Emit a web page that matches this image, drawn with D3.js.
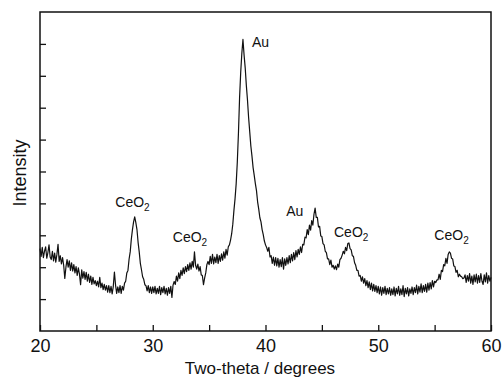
<!DOCTYPE html>
<html>
<head>
<meta charset="utf-8">
<script src="https://cdn.jsdelivr.net/npm/d3@7"></script>
<style>
  body { margin: 0; background: #fff; }
  svg { display: block; font-family: "Liberation Sans", Arial, Helvetica, sans-serif; }
  .axis path { display: none; }
  .axis line { stroke: #111; stroke-width: 1.3; }
  .axis text { fill: #111; font-size: 18px; font-family: "Liberation Sans", Arial, sans-serif; }
</style>
</head>
<body>
<svg id="chart" width="504" height="378"></svg>
<script>
// diffraction pattern, one value every 0.1 degree from 20 to 60
var thetaStart = 20,
    thetaStep = 0.1;

var intensity = [
    2.58, 2.34, 2.62, 2.30, 2.50, 2.64, 2.28, 2.46, 2.70, 2.32,  // 20
    2.24, 2.50, 2.20, 2.44, 2.16, 2.40, 2.72, 2.18, 2.36, 2.10,  // 21
    2.30, 2.06, 1.65, 2.00, 2.24, 2.00, 2.20, 1.90, 2.14, 1.88,  // 22
    2.08, 1.82, 2.02, 1.74, 1.98, 1.78, 1.45, 1.92, 1.66, 1.86,  // 23
    1.62, 1.84, 1.56, 1.78, 1.52, 1.72, 1.46, 1.68, 1.48, 1.58,  // 24
    1.42, 1.56, 1.38, 1.68, 1.36, 1.50, 1.30, 1.46, 1.28, 1.42,  // 25
    1.22, 1.42, 1.20, 1.40, 1.16, 1.40, 1.85, 1.44, 1.18, 1.38,  // 26
    1.20, 1.42, 1.18, 1.40, 1.28, 1.50, 1.56, 1.82, 1.90, 2.25,  // 27
    2.48, 2.88, 3.18, 3.42, 3.58, 3.40, 3.18, 2.78, 2.48, 2.12,  // 28
    1.92, 1.70, 1.62, 1.45, 1.42, 1.26, 1.42, 1.20, 1.38, 1.18,  // 29
    1.38, 1.20, 1.40, 1.16, 1.34, 1.18, 1.40, 1.14, 1.36, 1.20,  // 30
    1.40, 1.16, 1.34, 1.12, 1.36, 1.18, 1.40, 1.05, 1.44, 1.55,  // 31
    1.46, 1.72, 1.56, 1.82, 1.64, 1.90, 1.74, 1.98, 1.80, 2.02,  // 32
    1.86, 2.08, 1.90, 2.14, 1.94, 2.18, 2.00, 2.48, 2.06, 1.94,  // 33
    2.10, 1.88, 2.02, 1.76, 1.74, 1.45, 1.66, 1.82, 2.08, 2.18,  // 34
    2.08, 2.34, 2.12, 2.40, 2.10, 2.32, 2.14, 2.40, 2.12, 2.36,  // 35
    2.18, 2.42, 2.22, 2.48, 2.28, 2.56, 2.38, 2.64, 2.70, 2.85,  // 36
    3.05, 3.35, 3.78, 4.15, 4.62, 5.30, 6.20, 7.30, 8.10, 8.70,  // 37
    9.14, 8.65, 8.25, 7.70, 7.25, 6.70, 6.25, 5.80, 5.48, 5.12,  // 38
    4.88, 4.62, 4.40, 4.05, 3.82, 3.55, 3.42, 3.18, 3.02, 2.82,  // 39
    2.70, 2.62, 2.50, 2.62, 2.32, 2.36, 2.12, 2.32, 2.06, 2.30,  // 40
    2.04, 2.28, 2.00, 2.24, 2.02, 2.30, 1.94, 2.26, 2.06, 2.30,  // 41
    2.10, 2.36, 2.14, 2.40, 2.20, 2.46, 2.24, 2.52, 2.32, 2.56,  // 42
    2.40, 2.64, 2.46, 2.72, 2.70, 2.94, 2.92, 3.18, 3.02, 3.32,  // 43
    3.16, 3.46, 3.32, 3.66, 3.85, 3.56, 3.56, 3.26, 3.28, 2.98,  // 44
    2.96, 2.74, 2.70, 2.50, 2.46, 2.26, 2.26, 2.08, 2.22, 2.00,  // 45
    2.06, 1.94, 2.04, 1.92, 2.10, 2.00, 2.24, 2.28, 2.38, 2.50,  // 46
    2.42, 2.62, 2.52, 2.74, 2.76, 2.58, 2.54, 2.36, 2.34, 2.14,  // 47
    2.06, 1.90, 1.90, 1.72, 1.74, 1.56, 1.70, 1.50, 1.64, 1.42,  // 48
    1.58, 1.36, 1.54, 1.30, 1.50, 1.26, 1.46, 1.24, 1.42, 1.20,  // 49
    1.40, 1.16, 1.38, 1.12, 1.36, 1.18, 1.40, 1.14, 1.34, 1.16,  // 50
    1.36, 1.12, 1.32, 1.14, 1.38, 1.10, 1.34, 1.16, 1.40, 1.12,  // 51
    1.32, 1.14, 1.42, 1.08, 1.34, 1.16, 1.36, 1.10, 1.32, 1.18,  // 52
    1.38, 1.14, 1.36, 1.20, 1.44, 1.16, 1.40, 1.22, 1.48, 1.20,  // 53
    1.42, 1.24, 1.46, 1.22, 1.50, 1.28, 1.52, 1.32, 1.58, 1.38,  // 54
    1.56, 1.52, 1.60, 1.60, 1.78, 1.62, 1.90, 1.86, 2.08, 2.04,  // 55
    2.28, 2.12, 2.40, 2.48, 2.44, 2.28, 2.26, 2.04, 2.02, 1.84,  // 56
    1.90, 1.70, 1.78, 1.72, 1.70, 1.64, 1.66, 1.76, 1.52, 1.74,  // 57
    1.56, 1.80, 1.50, 1.72, 1.46, 1.76, 1.54, 1.78, 1.50, 1.74,  // 58
    1.52, 1.80, 1.56, 1.46, 1.76, 1.54, 1.82, 1.50, 1.74, 1.56,  // 59
    1.68                                                         // 60
];

var xTicks = [20, 25, 30, 35, 40, 45, 50, 55, 60];
var xLabels = [20, 30, 40, 50, 60];
var yTicks = [1, 2, 3, 4, 5, 6, 7, 8, 9];

// peak labels: phase, subscript, angle, intensity of the text baseline, anchor
var peakNames = ["CeO", "CeO", "Au", "Au", "CeO", "CeO"];
var peakSubs = ["2", "2", "", "", "2", "2"];
var peakAngles = [28.2, 33.3, 38.8, 42.6, 47.6, 56.5];
var peakLevels = [3.9, 2.78, 8.9, 3.6, 2.96, 2.85];
var peakAnchors = ["middle", "middle", "start", "middle", "middle", "middle"];

var svg = d3.select("#chart");

var plotLeft = 40, plotRight = 491, plotTop = 12, plotBottom = 331;

var x = d3.scaleLinear().domain([20, 60]).range([plotLeft, plotRight]);
var y = d3.scaleLinear().domain([0, 10]).range([plotBottom, plotTop]);

var scan = intensity.map(function (v, i) {
    return { theta: thetaStart + i * thetaStep, value: v };
});

// ticks pointing inward
svg.append("g")
    .attr("class", "axis")
    .attr("transform", "translate(0," + plotBottom + ")")
    .call(d3.axisBottom(x)
        .tickValues(xTicks)
        .tickSize(-6)
        .tickPadding(8)
        .tickFormat(function (d) {
            return xLabels.indexOf(d) >= 0 ? d : "";
        }));

svg.append("g")
    .attr("class", "axis")
    .attr("transform", "translate(" + plotLeft + ",0)")
    .call(d3.axisLeft(y)
        .tickValues(yTicks)
        .tickSize(-6)
        .tickFormat(""));

svg.append("rect")
    .attr("x", plotLeft)
    .attr("y", plotTop)
    .attr("width", plotRight - plotLeft)
    .attr("height", plotBottom - plotTop)
    .style("fill", "none")
    .style("stroke", "#111")
    .style("stroke-width", 1.5);

var line = d3.line()
    .x(function (d) { return x(d.theta); })
    .y(function (d) { return y(d.value); });

svg.append("path")
    .datum(scan)
    .attr("d", line)
    .style("fill", "none")
    .style("stroke", "#111")
    .style("stroke-width", 1.2)
    .style("stroke-linejoin", "round");

peakNames.forEach(function (name, i) {
    var t = svg.append("text")
        .attr("x", x(peakAngles[i]))
        .attr("y", y(peakLevels[i]))
        .attr("text-anchor", peakAnchors[i])
        .style("font-size", "14px")
        .style("fill", "#111")
        .text(name);
    if (peakSubs[i]) {
        t.append("tspan")
            .attr("dy", 4)
            .style("font-size", "10px")
            .text(peakSubs[i]);
    }
});

svg.append("text")
    .attr("x", 260)
    .attr("y", 374)
    .attr("text-anchor", "middle")
    .style("font-size", "17px")
    .style("fill", "#111")
    .text("Two-theta / degrees");

svg.append("text")
    .attr("transform", "translate(26,173) rotate(-90)")
    .attr("text-anchor", "middle")
    .style("font-size", "18px")
    .style("fill", "#111")
    .text("Intensity");
</script>
</body>
</html>
